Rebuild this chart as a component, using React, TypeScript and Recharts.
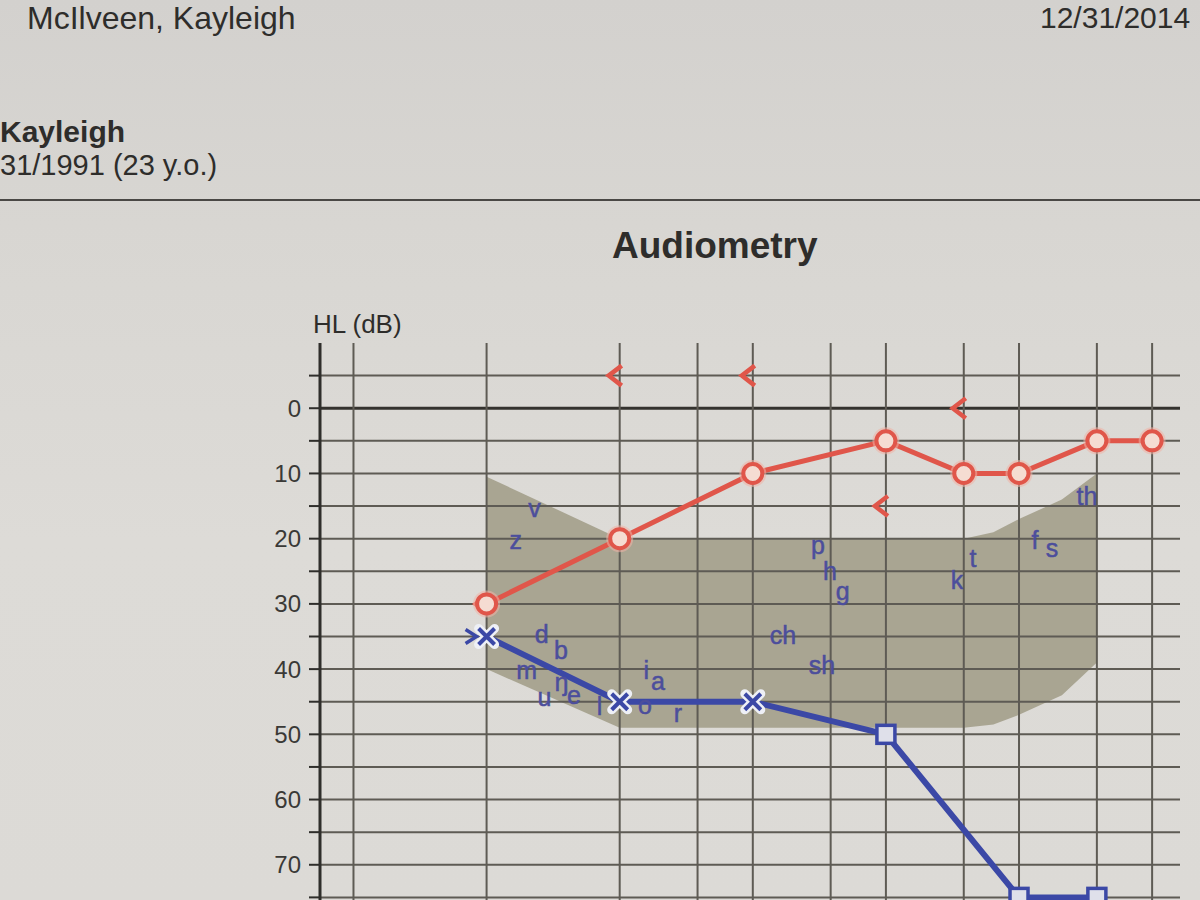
import {
  ComposedChart,
  Area,
  Line,
  Scatter,
  XAxis,
  YAxis,
  ReferenceLine,
} from 'recharts';

// audiogram frequencies (Hz) drawn as vertical grid lines
const gridFrequencies = [125, 250, 500, 750, 1000, 1500, 2000, 3000, 4000, 6000, 8000];
// hearing level grid, every 5 dB
const levelTicks = [-5, 0, 5, 10, 15, 20, 25, 30, 35, 40, 45, 50, 55, 60, 65, 70, 75];

// right ear, air conduction (O)
const rightFreqs = [250, 500, 1000, 2000, 3000, 4000, 6000, 8000];
const rightLevels = [30, 20, 10, 5, 10, 10, 5, 5];

// left ear, air conduction (X, then masked squares)
const leftFreqs = [250, 500, 1000, 2000, 4000, 6000];
const leftLevels = [35, 45, 45, 50, 75, 75];
const leftSymbols = ['x', 'x', 'x', 'square', 'square', 'square'];

// bone conduction
const rightBoneFreqs = [250, 500, 1000, 2000, 3000, 4000];
const rightBoneLevels = [30, -5, -5, 15, 0, 10];
const leftBoneFreqs = [250];
const leftBoneLevels = [35];

// speech banana outline
const bananaFreqs = [250, 500, 3000, 3500, 4000, 5000, 6000];
const bananaTop = [10.5, 20, 20, 19, 17, 14, 10];
const bananaBottom = [40, 49, 49, 48.5, 47, 44, 39];

// familiar sounds inside the banana
const phonemes = ['v', 'z', 'd', 'b', 'm', 'u', 'ŋ', 'e', 'l', 'o', 'i', 'a', 'r', 'ch', 'sh', 'p', 'h', 'g', 'k', 't', 'f', 's', 'th'];
const phonemeFreqs = [321, 291, 333, 368, 308, 338, 369, 394, 450, 570, 574, 610, 677, 1170, 1433, 1404, 1494, 1598, 2896, 3147, 4347, 4750, 5700];
const phonemeLevels = [15.3, 20.2, 34.6, 37, 40.1, 44.3, 42, 44, 45.6, 45.5, 40.1, 41.8, 46.7, 34.8, 39.4, 21, 25, 28, 26.3, 23, 20.2, 21.4, 13.5];

const RED = '#e0564a';
const BLUE = '#3b48a6';
const GRID = '#5e5b54';
const PHONEME = '#4c4e9c';
const FONT = '"Liberation Sans", Arial, sans-serif';

const rightData = rightFreqs.map((freq, i) => ({ freq, level: rightLevels[i] }));
const leftData = leftFreqs.map((freq, i) => ({ freq, level: leftLevels[i], symbol: leftSymbols[i] }));
const rightBoneData = rightBoneFreqs.map((freq, i) => ({ freq, level: rightBoneLevels[i] }));
const leftBoneData = leftBoneFreqs.map((freq, i) => ({ freq, level: leftBoneLevels[i] }));
const bananaData = bananaFreqs.map((freq, i) => ({ freq, range: [bananaBottom[i], bananaTop[i]] }));
const phonemeData = phonemes.map((text, i) => ({ text, freq: phonemeFreqs[i], level: phonemeLevels[i] }));

function RightDot(props: any) {
  const { cx, cy, index } = props;
  if (cx == null || cy == null) return <g key={`rd-${index}`} />;
  return (
    <g key={`rd-${index}`}>
      <circle cx={cx} cy={cy} r={12} fill="none" stroke="#f0b2a6" strokeWidth={3} opacity={0.55} />
      <circle cx={cx} cy={cy} r={9.5} fill="#f5dcd2" stroke={RED} strokeWidth={4} />
    </g>
  );
}

function LeftDot(props: any) {
  const { cx, cy, index, payload } = props;
  if (cx == null || cy == null) return <g key={`ld-${index}`} />;
  if (payload.symbol === 'square') {
    return (
      <g key={`ld-${index}`}>
        <rect x={cx - 9} y={cy - 9} width={18} height={18} fill="#dfe0ea" stroke={BLUE} strokeWidth={3.5} />
      </g>
    );
  }
  const s = 8;
  return (
    <g key={`ld-${index}`}>
      <path d={`M${cx - s},${cy - s}L${cx + s},${cy + s}M${cx + s},${cy - s}L${cx - s},${cy + s}`} stroke="#eef0f6" strokeWidth={9} strokeLinecap="round" />
      <path d={`M${cx - s},${cy - s}L${cx + s},${cy + s}M${cx + s},${cy - s}L${cx - s},${cy + s}`} stroke={BLUE} strokeWidth={4} />
    </g>
  );
}

function RightBoneMark(props: any) {
  const { cx, cy } = props;
  if (cx == null || cy == null) return <g />;
  return (
    <path
      d={`M${cx + 2},${cy - 10}L${cx - 11},${cy}L${cx + 2},${cy + 10}`}
      fill="none"
      stroke={RED}
      strokeWidth={4.5}
    />
  );
}

function LeftBoneMark(props: any) {
  const { cx, cy } = props;
  if (cx == null || cy == null) return <g />;
  return (
    <path
      d={`M${cx - 21},${cy - 7}L${cx - 10},${cy}L${cx - 21},${cy + 7}`}
      fill="none"
      stroke={BLUE}
      strokeWidth={3.5}
    />
  );
}

function PhonemeLabel(props: any) {
  const { cx, cy, payload } = props;
  if (cx == null || cy == null) return <g />;
  return (
    <text
      x={cx}
      y={cy}
      textAnchor="middle"
      dominantBaseline="central"
      style={{ fontSize: 25, fontFamily: FONT, fill: PHONEME, stroke: PHONEME, strokeWidth: 0.5 }}
    >
      {payload.text}
    </text>
  );
}

const textStyle = { position: 'absolute' as const, fontFamily: FONT, color: '#2e2d2b', whiteSpace: 'nowrap' as const, lineHeight: 1 };

export default function App() {
  return (
    <div
      style={{
        position: 'absolute',
        top: 0,
        left: 0,
        width: 1200,
        height: 900,
        overflow: 'hidden',
        background: 'linear-gradient(180deg, #d3d1ce 0%, #d8d6d2 25%, #dddbd7 60%, #dcdad6 100%)',
      }}
    >
      <div style={{ ...textStyle, left: 27, top: 2, fontSize: 32 }}>McIlveen, Kayleigh</div>
      <div style={{ ...textStyle, left: 1040, top: 3, fontSize: 30 }}>12/31/2014</div>
      <div style={{ ...textStyle, left: 0, top: 117, fontSize: 30, fontWeight: 700 }}>Kayleigh</div>
      <div style={{ ...textStyle, left: 0, top: 151, fontSize: 29 }}>31/1991 (23 y.o.)</div>
      <div style={{ position: 'absolute', left: 0, top: 199, width: 1200, height: 2, background: '#4a4845' }} />
      <div style={{ ...textStyle, left: 612, top: 227, fontSize: 37, fontWeight: 700 }}>Audiometry</div>
      <div style={{ ...textStyle, left: 313, top: 311, fontSize: 26 }}>HL (dB)</div>

      <div style={{ position: 'absolute', left: 0, top: 0 }}>
        <ComposedChart width={1200} height={960} margin={{ top: 343, right: 20, bottom: 30, left: 260 }}>
          <XAxis
            dataKey="freq"
            type="number"
            scale="log"
            domain={[105, 9250]}
            allowDataOverflow
            hide
          />
          <YAxis
            dataKey="level"
            type="number"
            reversed
            domain={[-10, 80]}
            allowDataOverflow
            ticks={levelTicks}
            interval={0}
            width={60}
            tickFormatter={(v: number) => (v % 10 === 0 ? String(v) : '')}
            tickSize={11}
            tickMargin={8}
            axisLine={{ stroke: '#2f2e2b', strokeWidth: 3 }}
            tickLine={{ stroke: '#2f2e2b', strokeWidth: 2 }}
            tick={{ fill: '#3a3936', fontSize: 24, fontFamily: FONT }}
          />
          {levelTicks.map((v) => (
            <ReferenceLine
              key={`h-${v}`}
              y={v}
              stroke={v === 0 ? '#34322e' : GRID}
              strokeWidth={v === 0 ? 3 : 2}
            />
          ))}
          {gridFrequencies.map((f) => (
            <ReferenceLine key={`v-${f}`} x={f} stroke={GRID} strokeWidth={2} />
          ))}
          <Area
            data={bananaData}
            dataKey="range"
            type="linear"
            stroke="none"
            fill="#75704e"
            fillOpacity={0.5}
            isAnimationActive={false}
          />
          <Scatter data={phonemeData} shape={PhonemeLabel} isAnimationActive={false} />
          <Scatter data={rightBoneData} shape={RightBoneMark} isAnimationActive={false} />
          <Scatter data={leftBoneData} shape={LeftBoneMark} isAnimationActive={false} />
          <Line
            data={leftData}
            dataKey="level"
            type="linear"
            stroke={BLUE}
            strokeWidth={6}
            dot={LeftDot}
            activeDot={false}
            isAnimationActive={false}
          />
          <Line
            data={rightData}
            dataKey="level"
            type="linear"
            stroke={RED}
            strokeWidth={5}
            dot={RightDot}
            activeDot={false}
            isAnimationActive={false}
          />
        </ComposedChart>
      </div>
    </div>
  );
}
